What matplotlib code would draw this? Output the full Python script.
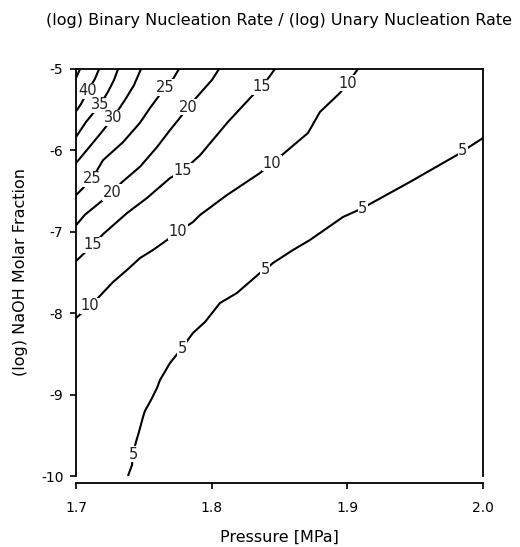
import matplotlib
matplotlib.use("Agg")
import matplotlib.pyplot as plt

plt.rcParams['font.family'] = ['DejaVu Sans']
plt.rcParams['axes.unicode_minus'] = False

# Contour lines: pressure [MPa] and log10 NaOH molar fraction
p45 = [1.700, 1.703]
l45 = [-5.11, -5.00]

p40 = [1.700, 1.7037, 1.7088, 1.714, 1.717]
l40 = [-5.52, -5.43, -5.27, -5.12, -5.00]
lab40 = [2]

p35 = [1.700, 1.7074, 1.7177, 1.7236, 1.728, 1.731]
l35 = [-5.835, -5.65, -5.44, -5.28, -5.135, -5.00]
lab35 = [2]

p30 = [1.700, 1.7088, 1.7177, 1.7273, 1.7361, 1.7427, 1.7479]
l30 = [-6.155, -5.98, -5.80, -5.60, -5.38, -5.20, -5.00]
lab30 = [3]

p25 = [1.700, 1.7118, 1.7199, 1.7346, 1.7472, 1.7545, 1.7656, 1.772, 1.7759]
l25 = [-6.55, -6.35, -6.12, -5.90, -5.66, -5.48, -5.23, -5.11, -5.00]
lab25 = [1, 6]

p20 = [1.700, 1.7066, 1.7265, 1.7339, 1.7472, 1.7597, 1.7693, 1.7766, 1.7825, 1.7914, 1.8002, 1.8054]
l20 = [-6.92, -6.79, -6.52, -6.39, -6.20, -5.96, -5.75, -5.60, -5.47, -5.30, -5.135, -5.00]
lab20 = [2, 8]

p15 = [1.700, 1.7125, 1.7199, 1.7376, 1.7523, 1.7693, 1.7788, 1.7914, 1.812, 1.8304, 1.8371, 1.8466]
l15 = [-7.36, -7.16, -7.03, -6.77, -6.585, -6.34, -6.25, -6.06, -5.65, -5.32, -5.22, -5.00]
lab15 = [1, 6, 10]

p10 = [1.700, 1.7103, 1.7162, 1.7273, 1.7376, 1.7472, 1.7567, 1.7671, 1.7752, 1.7862,
       1.7914, 1.8113, 1.8356, 1.8444, 1.8518, 1.8710, 1.8798, 1.8945, 1.9004, 1.9078]
l10 = [-8.06, -7.91, -7.813, -7.617, -7.469, -7.322, -7.224, -7.101, -7.002, -6.880,
       -6.794, -6.548, -6.278, -6.155, -6.057, -5.786, -5.528, -5.295, -5.172, -5.00]
lab10 = [1, 8, 13, 18]

p5 = [1.7383, 1.7413, 1.742, 1.7442, 1.7464, 1.7494, 1.7508, 1.7553, 1.7597, 1.7619,
      1.7693, 1.7781, 1.7862, 1.7951, 1.8061, 1.8186, 1.8356, 1.8393, 1.8452, 1.8599,
      1.8724, 1.8968, 1.9115, 1.9167, 1.9461, 1.9808, 1.9852, 2.000]
l5 = [-10.0, -9.865, -9.73, -9.582, -9.459, -9.275, -9.201, -9.066, -8.919, -8.821,
      -8.612, -8.428, -8.243, -8.108, -7.875, -7.752, -7.506, -7.469, -7.383, -7.224,
      -7.101, -6.818, -6.708, -6.658, -6.388, -6.057, -6.007, -5.848]
lab5 = [2, 11, 17, 22, 26]

contours = [
    ("45", p45, l45, []),
    ("40", p40, l40, lab40),
    ("35", p35, l35, lab35),
    ("30", p30, l30, lab30),
    ("25", p25, l25, lab25),
    ("20", p20, l20, lab20),
    ("15", p15, l15, lab15),
    ("10", p10, l10, lab10),
    ("5", p5, l5, lab5),
]

x_ticks = [1.7, 1.8, 1.9, 2.0]
x_ticklabels = ["1.7", "1.8", "1.9", "2.0"]
y_ticks = [-10, -9, -8, -7, -6, -5]
y_ticklabels = ["-10", "-9", "-8", "-7", "-6", "-5"]

fig = plt.figure(figsize=(5.2, 5.47), dpi=100)
ax = fig.add_axes([76/520, 1-476/547, 407/520, 407/547])

for name, ps, ls, labs in contours:
    ax.plot(ps, ls, color='black', lw=1.5, solid_capstyle='butt', clip_on=True)
    for i in labs:
        ax.text(ps[i], ls[i], name, ha='center', va='center', fontsize=10.5,
                color='#222222',
                bbox=dict(boxstyle='square,pad=0.05', fc='white', ec='none'))

ax.set_xlim(1.7, 2.0)
ax.set_ylim(-10, -5)
ax.set_xticks(x_ticks)
ax.set_xticklabels(x_ticklabels)
ax.set_yticks(y_ticks)
ax.set_yticklabels(y_ticklabels)
ax.spines['bottom'].set_position(('outward', 5))
for s in ax.spines.values():
    s.set_linewidth(1.3)
ax.tick_params(axis='both', direction='out', length=4, width=1.2, labelsize=10, pad=5,
               colors='black')
ax.tick_params(axis='x', pad=9)

ax.set_xlabel("Pressure [MPa]", fontsize=11.5, labelpad=11)
ax.set_ylabel("(log) NaOH Molar Fraction", fontsize=11.5, labelpad=9)
fig.text(278.5/520, 1-20/547, "(log) Binary Nucleation Rate / (log) Unary Nucleation Rate",
         ha='center', va='center', fontsize=11.5)

fig.savefig("out.png", dpi=100)
